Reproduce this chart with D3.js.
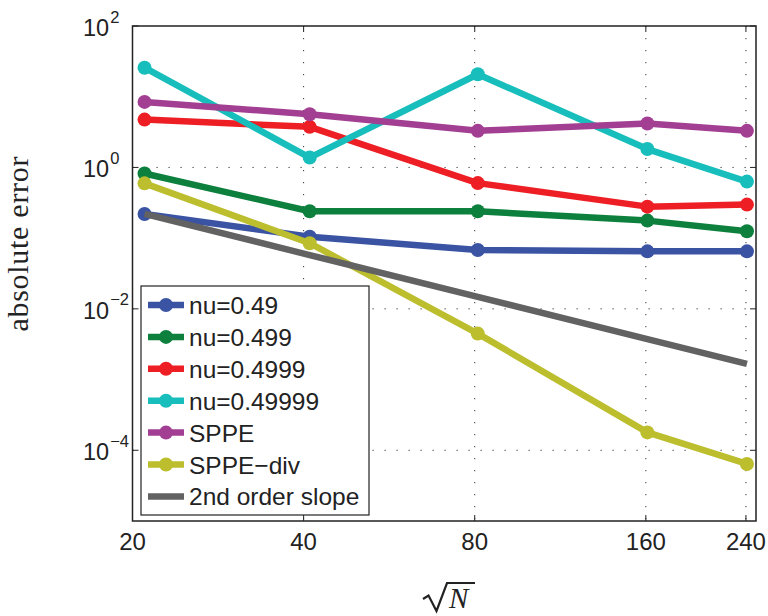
<!DOCTYPE html>
<html>
<head>
<meta charset="utf-8">
<script src="https://cdn.jsdelivr.net/npm/d3@7"></script>
<style>
  body { margin: 0; background: #fff; }
  svg { display: block; }
</style>
</head>
<body>
<div id="canvas"></div>
<script>
var xValues = [21, 41, 81, 161, 241]
var xTicks = [20, 40, 80, 160, 240]
var yTicks = [1e-4, 1e-2, 1e0, 1e2]
var yTickExp = ['\u22124', '\u22122', '0', '2']

var seriesNames = ['nu=0.49', 'nu=0.499', 'nu=0.4999', 'nu=0.49999', 'SPPE', 'SPPE\u2212div', '2nd order slope']
var nu049 = [0.22, 0.105, 0.068, 0.065, 0.065]
var nu0499 = [0.82, 0.24, 0.24, 0.177, 0.125]
var nu04999 = [4.75, 3.75, 0.60, 0.279, 0.298]
var nu049999 = [25.7, 1.38, 20.8, 1.82, 0.63]
var sppe = [8.45, 5.66, 3.29, 4.18, 3.29]
var sppeDiv = [0.595, 0.0848, 0.00447, 1.79e-4, 6.41e-5]
var slope2 = [0.22, 0.0577, 0.0148, 0.00374, 0.00167]

var COLORS = ['#3a53a3', '#0d803e', '#ee1e25', '#17bebb', '#a33f92', '#bcbe2e', '#626262']
var allSeries = [nu049, nu0499, nu04999, nu049999, sppe, sppeDiv, slope2]

var WIDTH = 768
var HEIGHT = 616
var LEFT = 132.5
var RIGHT = 756
var TOP = 26
var BOTTOM = 521
var LINE_W = 6.5
var MARK_R = 7
var TICK = 6

var x = d3.scaleLog().domain([20, 250]).range([LEFT, RIGHT])
var y = d3.scaleLog().domain([1e-5, 1e2]).range([BOTTOM, TOP])

var svg = d3.select('#canvas').append('svg')
  .attr('width', WIDTH)
  .attr('height', HEIGHT)

// dotted grid
var grid = svg.append('g').attr('class', 'grid')
grid.selectAll('line.gx')
  .data(xTicks.slice(1))
  .enter().append('line')
  .attr('x1', function (d) { return x(d) })
  .attr('x2', function (d) { return x(d) })
  .attr('y1', TOP)
  .attr('y2', BOTTOM)
grid.selectAll('line.gy')
  .data(yTicks.slice(0, 3))
  .enter().append('line')
  .attr('x1', LEFT)
  .attr('x2', RIGHT)
  .attr('y1', function (d) { return y(d) })
  .attr('y2', function (d) { return y(d) })
grid.selectAll('line')
  .attr('stroke', '#333')
  .attr('stroke-width', 1)
  .attr('stroke-dasharray', '1.2,10.8')

// ticks on all four sides, pointing inwards
var ticks = svg.append('g').attr('stroke', '#222').attr('stroke-width', 1)
xTicks.forEach(function (d) {
  ticks.append('line').attr('x1', x(d)).attr('x2', x(d)).attr('y1', BOTTOM).attr('y2', BOTTOM - TICK)
  ticks.append('line').attr('x1', x(d)).attr('x2', x(d)).attr('y1', TOP).attr('y2', TOP + TICK)
})
yTicks.forEach(function (d) {
  ticks.append('line').attr('x1', LEFT).attr('x2', LEFT + TICK).attr('y1', y(d)).attr('y2', y(d))
  ticks.append('line').attr('x1', RIGHT).attr('x2', RIGHT - TICK).attr('y1', y(d)).attr('y2', y(d))
})

// series
var line = d3.line()
  .x(function (d, i) { return x(xValues[i]) })
  .y(function (d) { return y(d) })

allSeries.forEach(function (vals, k) {
  var g = svg.append('g').attr('class', 'series')
  g.append('path')
    .attr('d', line(vals))
    .attr('fill', 'none')
    .attr('stroke', COLORS[k])
    .attr('stroke-width', LINE_W)
    .attr('stroke-linejoin', 'round')
  if (k < 6) {
    g.selectAll('circle')
      .data(vals)
      .enter().append('circle')
      .attr('cx', function (d, i) { return x(xValues[i]) })
      .attr('cy', function (d) { return y(d) })
      .attr('r', MARK_R)
      .attr('fill', COLORS[k])
  }
})

// box
svg.append('rect')
  .attr('x', LEFT)
  .attr('y', TOP)
  .attr('width', RIGHT - LEFT)
  .attr('height', BOTTOM - TOP)
  .attr('fill', 'none')
  .attr('stroke', '#222')
  .attr('stroke-width', 1.5)

// tick labels
var FONT = '"Liberation Sans", Arial, Helvetica, sans-serif'
svg.append('g').selectAll('text')
  .data(xTicks)
  .enter().append('text')
  .attr('x', function (d) { return x(d) })
  .attr('y', 550)
  .attr('text-anchor', 'middle')
  .attr('font-family', FONT)
  .attr('font-size', 24)
  .attr('fill', '#222')
  .text(function (d) { return d })

var yl = svg.append('g').selectAll('text')
  .data(yTicks)
  .enter().append('text')
  .attr('x', 83)
  .attr('y', function (d) { return y(d) + 10 })
  .attr('font-family', FONT)
  .attr('font-size', 23.5)
  .attr('fill', '#222')
yl.append('tspan').text('10')
yl.append('tspan')
  .attr('dy', -13.5)
  .attr('dx', 1)
  .attr('font-size', 16.5)
  .text(function (d, i) { return yTickExp[i] })

// axis labels
svg.append('text')
  .attr('transform', 'translate(28,244) rotate(-90)')
  .attr('text-anchor', 'middle')
  .attr('font-family', '"Liberation Serif", "DejaVu Serif", serif')
  .attr('font-size', 30)
  .attr('textLength', 175)
  .attr('fill', '#222')
  .text('absolute error')

var xl = svg.append('g').attr('class', 'xlabel')
xl.append('path')
  .attr('d', 'M423,599 L428.5,595.5 L436.5,611 L447,583 L475,583')
  .attr('fill', 'none')
  .attr('stroke', '#222')
  .attr('stroke-width', 2.2)
xl.append('text')
  .attr('x', 449)
  .attr('y', 607.5)
  .attr('font-family', '"Liberation Serif", "DejaVu Serif", serif')
  .attr('font-style', 'italic')
  .attr('font-size', 29)
  .attr('fill', '#222')
  .text('N')

// legend
var LEG_X = 141
var LEG_Y = 286
var ROW0 = 305
var ROW_H = 31.9
var legend = svg.append('g').attr('class', 'legend')
legend.append('rect')
  .attr('x', LEG_X)
  .attr('y', LEG_Y)
  .attr('width', 228)
  .attr('height', 229)
  .attr('fill', '#fff')
  .attr('stroke', '#222')
  .attr('stroke-width', 1.2)

seriesNames.forEach(function (name, k) {
  var cy = ROW0 + k * ROW_H
  legend.append('line')
    .attr('x1', 148)
    .attr('x2', 184)
    .attr('y1', cy)
    .attr('y2', cy)
    .attr('stroke', COLORS[k])
    .attr('stroke-width', LINE_W)
  if (k < 6) {
    legend.append('circle')
      .attr('cx', 166)
      .attr('cy', cy)
      .attr('r', MARK_R)
      .attr('fill', COLORS[k])
  }
  legend.append('text')
    .attr('x', 189)
    .attr('y', cy + 9)
    .attr('font-family', FONT)
    .attr('font-size', 24.5)
    .attr('fill', '#222')
    .text(name)
})
</script>
</body>
</html>
